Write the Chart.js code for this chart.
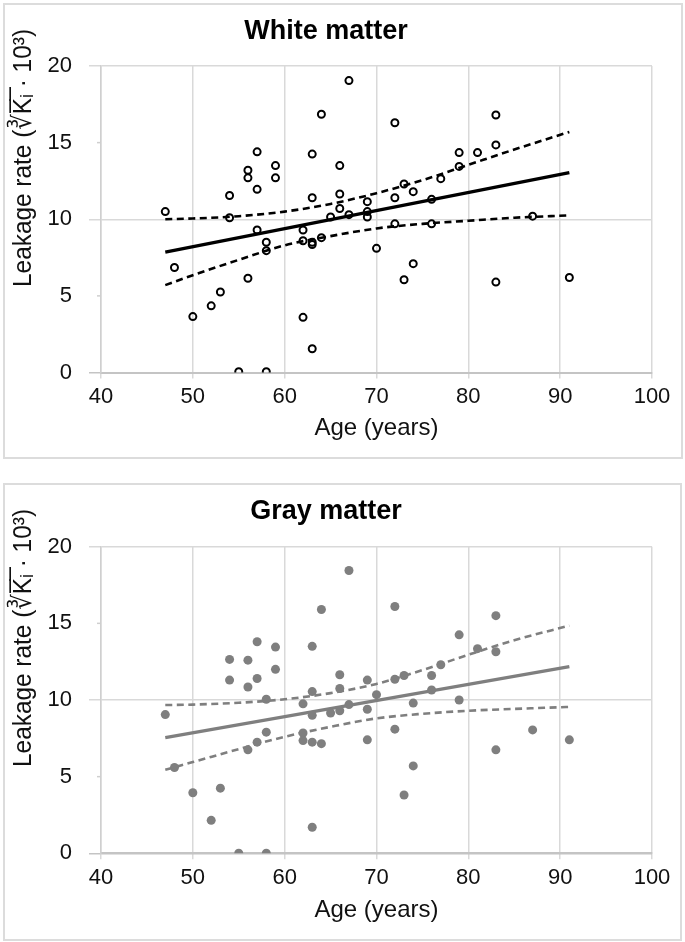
<!DOCTYPE html>
<html>
<head>
<meta charset="utf-8">
<title>Leakage rate vs age</title>
<script src="https://cdn.jsdelivr.net/npm/chart.js@4.4.1/dist/chart.umd.min.js"></script>
<style>
  body { margin: 0; background: #fff; width: 685px; height: 942px; position: relative; overflow: hidden; }
  .panel { position: absolute; box-sizing: border-box; border: 2px solid #dcdcdc; }
  canvas { position: absolute; left: 0; }
</style>
</head>
<body>
<div class="panel" style="left:3px;top:3px;width:680px;height:456px"></div>
<div class="panel" style="left:3px;top:483px;width:679px;height:458px"></div>
<canvas id="white" width="685" height="470" style="top:0"></canvas>
<canvas id="gray" width="685" height="472" style="top:470px"></canvas>
<script>
'use strict';

// ages of the subjects (same people in both panels)
const ages = [47, 48, 50, 52, 53, 54, 54, 55, 56, 56, 56, 57, 57, 57, 58, 58, 58, 59, 59,
    62, 62, 62, 63, 63, 63, 63, 63, 64, 64, 65, 66, 66, 66, 67, 67, 69, 69, 69, 70,
    72, 72, 72, 73, 73, 74, 74, 76, 76, 77, 79, 79, 81, 83, 83, 83, 87, 91];

const whiteValues = [10.5, 6.85, 3.65, 4.35, 5.25, 11.55, 10.1, 0.05, 13.2, 12.7, 6.15, 14.4, 11.95, 9.3,
    8.5, 7.95, 0.05, 13.5, 12.7, 9.3, 8.6, 3.6, 14.25, 11.4, 8.5, 8.35, 1.55, 16.85, 8.8, 10.15,
    13.5, 11.65, 10.7, 19.05, 10.3, 11.15, 10.5, 10.15, 8.1,
    16.3, 11.4, 9.7, 12.3, 6.05, 11.8, 7.1, 11.3, 9.7, 12.65, 14.35, 13.45, 14.35, 16.8, 14.85, 5.9, 10.2, 6.2];

const grayValues = [9.05, 5.6, 3.95, 2.15, 4.25, 12.65, 11.3, 0, 12.6, 10.85, 6.75, 13.8, 11.4, 7.25,
    10.05, 7.9, 0, 13.45, 12.0, 9.75, 7.85, 7.35, 13.5, 10.55, 9.0, 7.25, 1.7, 15.9, 7.15, 9.15,
    11.65, 10.75, 9.3, 18.45, 9.7, 11.3, 9.4, 7.4, 10.35,
    16.1, 11.35, 8.1, 11.6, 3.8, 9.8, 5.7, 11.6, 10.65, 12.3, 14.25, 10.0, 13.35, 15.5, 13.15, 6.75, 8.05, 7.4];

// regression lines
const fitAges = [47, 91];
const whiteFit = [7.85, 13.05];
const grayFit = [7.55, 12.17];

// confidence band
const bandAges = [47, 50, 55, 60, 65, 70, 75, 80, 85, 91];
const whiteUpper = [10.0, 10.05, 10.2, 10.5, 11.0, 11.7, 12.55, 13.55, 14.55, 15.7];
const whiteLower = [5.7, 6.35, 7.35, 8.3, 8.9, 9.4, 9.7, 9.9, 10.1, 10.25];
const grayUpper = [9.67, 9.7, 9.82, 10.05, 10.45, 11.05, 11.95, 12.95, 13.9, 14.85];
const grayLower = [5.45, 5.95, 6.8, 7.6, 8.25, 8.8, 9.1, 9.3, 9.42, 9.55];

const xTicks = [40, 50, 60, 70, 80, 90, 100];
const yTicks = [0, 5, 10, 15, 20];

const yLabel = 'Leakage rate (\u221BK\u0305\u1D62\u0305 \u00B7 10\u00B3)';

Chart.defaults.font.family = "'Liberation Sans', Arial, 'DejaVu Sans', sans-serif";
Chart.defaults.color = '#111';

function pts(xs, ys) {
    return xs.map((x, i) => ({ x: x, y: ys[i] }));
}

// rotated y title, placed by hand so it sits where the original one is
const yTitlePlugin = {
    id: 'yTitle',
    afterDraw(chart, args, o) {
        const ctx = chart.ctx;
        ctx.save();
        ctx.font = o.size + "px 'Liberation Sans', 'DejaVu Sans', sans-serif";
        const w = ctx.measureText(o.text).width;
        ctx.translate(o.x, o.y);
        ctx.rotate(-Math.PI / 2);
        ctx.scale(o.length / w, 1);
        ctx.fillStyle = '#111';
        ctx.textAlign = 'center';
        ctx.textBaseline = 'middle';
        ctx.fillText(o.text, 0, 0);
        ctx.restore();
    },
    // short minor tick marks at 5 and 15
    afterDatasetsDraw(chart) {
        const ctx = chart.ctx;
        const y = chart.scales.y;
        ctx.save();
        ctx.strokeStyle = '#cfcfcf';
        ctx.lineWidth = 1.5;
        [5, 15].forEach(v => {
            const py = y.getPixelForValue(v);
            ctx.beginPath();
            ctx.moveTo(chart.chartArea.left - 4, py);
            ctx.lineTo(chart.chartArea.left, py);
            ctx.stroke();
        });
        ctx.restore();
    }
};

function makeChart(id, cfg) {
    const ctx = document.getElementById(id);
    const majorColor = c => (c.tick && c.tick.value % 10 === 0) ? (c.tick.value === 0 ? '#c4c4c4' : '#d9d9d9') : 'rgba(0,0,0,0)';

    return new Chart(ctx, {
        type: 'scatter',
        plugins: [yTitlePlugin],
        data: {
            datasets: [
                {
                    data: pts(ages, cfg.values),
                    pointRadius: cfg.open ? 3.5 : 4.5,
                    pointBorderWidth: cfg.open ? 2 : 0,
                    pointBorderColor: cfg.color,
                    pointBackgroundColor: cfg.open ? 'rgba(0,0,0,0)' : cfg.color,
                    order: 0
                },
                {
                    type: 'line',
                    data: pts(fitAges, cfg.fit),
                    borderColor: cfg.color,
                    borderWidth: 3.3,
                    pointRadius: 0,
                    order: 1
                },
                {
                    type: 'line',
                    data: pts(bandAges, cfg.upper),
                    borderColor: cfg.color,
                    borderWidth: 2.6,
                    borderDash: [7, 4.5],
                    cubicInterpolationMode: 'monotone',
                    pointRadius: 0,
                    order: 1
                },
                {
                    type: 'line',
                    data: pts(bandAges, cfg.lower),
                    borderColor: cfg.color,
                    borderWidth: 2.6,
                    borderDash: [7, 4.5],
                    cubicInterpolationMode: 'monotone',
                    pointRadius: 0,
                    order: 1
                }
            ]
        },
        options: {
            responsive: false,
            animation: false,
            events: [],
            layout: {
                padding: { left: 0, right: 33, top: 0, bottom: cfg.padBottom }
            },
            plugins: {
                legend: { display: false },
                tooltip: { enabled: false },
                title: {
                    display: true,
                    text: cfg.title,
                    color: '#000',
                    font: { size: 27, weight: 'bold' },
                    padding: { top: cfg.titleTop, bottom: cfg.titleBottom }
                },
                yTitle: { text: yLabel, x: 24, y: cfg.labelY, size: 26, length: 258 }
            },
            scales: {
                x: {
                    type: 'linear',
                    min: 40,
                    max: 100,
                    afterBuildTicks: s => { s.ticks = xTicks.map(v => ({ value: v })); },
                    afterFit: s => { s.height = cfg.xHeight; },
                    ticks: { font: { size: 22 }, padding: 5, maxRotation: 0 },
                    grid: { color: '#d9d9d9', lineWidth: 1.5, tickLength: 6 },
                    border: { color: '#c4c4c4', width: 2 },
                    title: {
                        display: true,
                        text: 'Age (years)',
                        font: { size: 24 },
                        padding: { top: 0, bottom: 0 }
                    }
                },
                y: {
                    type: 'linear',
                    min: 0,
                    max: 20,
                    afterBuildTicks: s => { s.ticks = yTicks.map(v => ({ value: v })); },
                    afterFit: s => { s.width = 101; },
                    ticks: { font: { size: 22 }, padding: 17 },
                    grid: { color: majorColor, tickColor: majorColor, lineWidth: 1.5, tickLength: 12 },
                    border: { color: '#cfcfcf', width: 1.5 }
                }
            }
        }
    });
}

makeChart('white', {
    title: 'White matter',
    values: whiteValues, fit: whiteFit, upper: whiteUpper, lower: whiteLower,
    color: '#000', open: true,
    titleTop: 15.5, titleBottom: 18.1, xHeight: 69.9, padBottom: 27.6, labelY: 158
});

makeChart('gray', {
    title: 'Gray matter',
    values: grayValues, fit: grayFit, upper: grayUpper, lower: grayLower,
    color: '#7f7f7f', open: false,
    titleTop: 25.5, titleBottom: 18.8, xHeight: 71.1, padBottom: 17.6, labelY: 168
});
</script>
</body>
</html>
